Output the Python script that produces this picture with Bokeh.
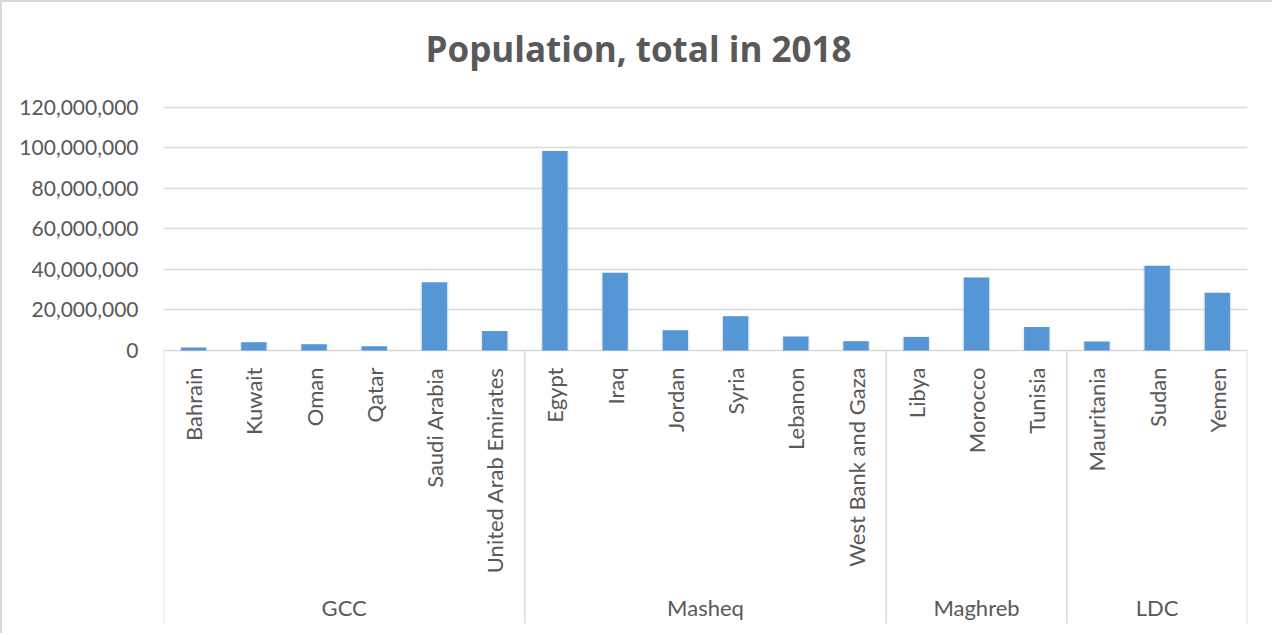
from math import pi
from bokeh.plotting import figure
from bokeh.models import ColumnDataSource, Range1d, FixedTicker, NumeralTickFormatter
from bokeh.core.properties import value
from bokeh.embed import file_html
from bokeh.resources import INLINE

# ---- data ----
countries = ["Bahrain", "Kuwait", "Oman", "Qatar", "Saudi Arabia", "United Arab Emirates",
             "Egypt", "Iraq", "Jordan", "Syria", "Lebanon", "West Bank and Gaza",
             "Libya", "Morocco", "Tunisia",
             "Mauritania", "Sudan", "Yemen"]
regions = ["GCC"] * 6 + ["Masheq"] * 6 + ["Maghreb"] * 3 + ["LDC"] * 3
population = [1_500_000, 4_100_000, 3_100_000, 2_100_000, 33_700_000, 9_600_000,
              98_400_000, 38_400_000, 10_000_000, 16_900_000, 6_900_000, 4_600_000,
              6_700_000, 36_000_000, 11_600_000,
              4_400_000, 41_800_000, 28_500_000]
group_names = ["GCC", "Masheq", "Maghreb", "LDC"]
y_ticks = [0, 20_000_000, 40_000_000, 60_000_000, 80_000_000, 100_000_000, 120_000_000]
title_text = "Population, total in 2018"

# ---- style ----
TXT = "#595959"
GRID = "#d9d9d9"
BAR = "#5596d6"
FONT = "Lato"
Y_TOP = 133.2e6
Y_BOT = -140.6e6
LABEL_Y = -(17 / 2.0275) * 1e6       # just below axis
GROUP_Y = -(257 / 2.0275) * 1e6
SEP_BOTTOM = -(273 / 2.0275) * 1e6

n = len(countries)
xs = [i + 0.5 for i in range(n)]

src = ColumnDataSource(dict(x=xs, top=population, name=countries, region=regions))

p = figure(width=1272, height=633, output_backend="svg", toolbar_location=None,
           x_range=Range1d(0, n), y_range=Range1d(Y_BOT, Y_TOP),
           x_axis_location=None, min_border_left=161, min_border_right=27,
           min_border_top=78, min_border_bottom=0)
p.styles = {"border-left": "2px solid #d9d9d9", "border-top": "2px solid #d9d9d9"}
p.outline_line_color = None
p.background_fill_color = "white"
p.border_fill_color = "white"

p.title.text = title_text
p.title.align = "left"
p.title.offset = 262
p.title.text_font = "Open Sans"
p.title.text_font_size = "35px"
p.title.text_font_style = "bold"
p.title.text_color = TXT
p.title.standoff = 17

yax = p.yaxis[0]
yax.ticker = FixedTicker(ticks=y_ticks)
yax.formatter = NumeralTickFormatter(format="0,0")
yax.axis_line_color = None
yax.major_tick_line_color = None
yax.minor_tick_line_color = None
yax.major_label_text_font = FONT
yax.major_label_text_font_size = "21px"
yax.major_label_text_color = TXT
yax.major_label_standoff = 19

p.xgrid.visible = False
p.ygrid.ticker = FixedTicker(ticks=y_ticks)
p.ygrid.grid_line_color = GRID
p.ygrid.grid_line_width = 1.5

# shadow then bars
p.vbar(x="x", top="top", bottom=0, width=0.47, source=src,
       fill_color="black", fill_alpha=0.07, line_color=None)
p.vbar(x="x", top="top", bottom=0, width=0.42, source=src,
       fill_color=BAR, line_color=None)

# category labels (rotated)
p.text(x="x", y=LABEL_Y, text="name", source=src, angle=pi / 2,
       text_align="right", text_baseline="middle",
       text_font=value(FONT), text_font_size="22px", text_color=TXT)

# group separators and labels
bounds = [0]
centers = []
for g in group_names:
    cnt = regions.count(g)
    start = bounds[-1]
    bounds.append(start + cnt)
    centers.append(start + cnt / 2)

p.segment(x0=bounds, y0=[0] * len(bounds), x1=bounds, y1=[SEP_BOTTOM] * len(bounds),
          line_color=GRID, line_width=1.5)
p.text(x=centers, y=[GROUP_Y] * len(centers), text=group_names,
       text_align="center", text_baseline="middle",
       text_font=value(FONT), text_font_size="22px", text_color=TXT)

open("out.html", "w").write(file_html(p, INLINE))
